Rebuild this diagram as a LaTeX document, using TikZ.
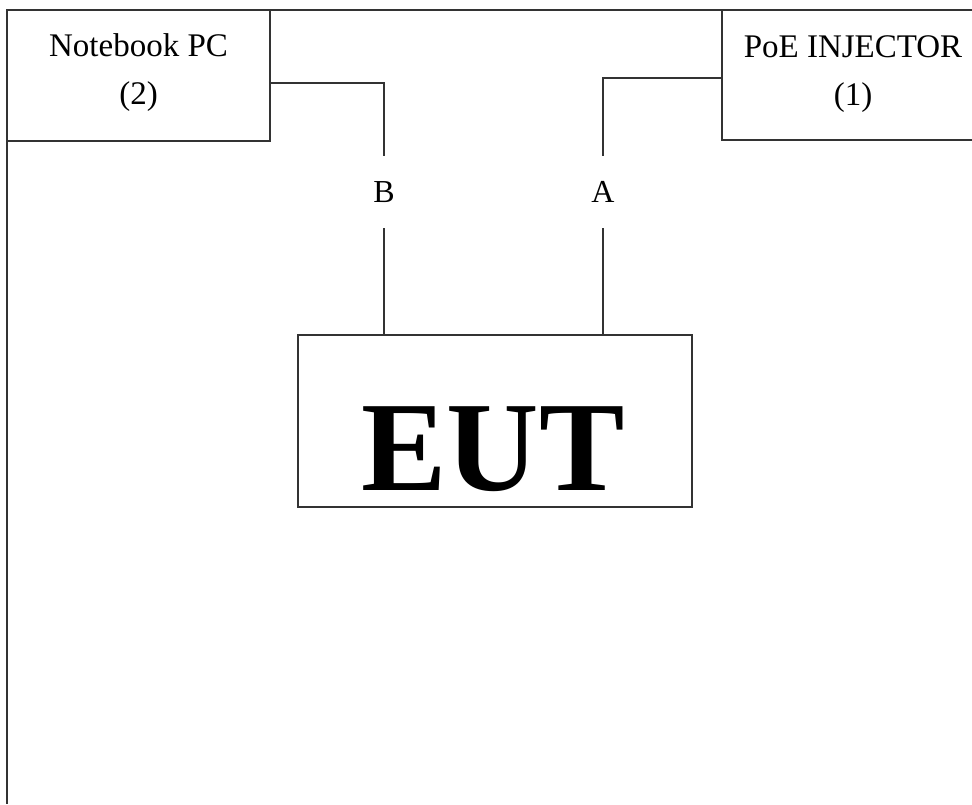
\documentclass[tikz,border=0pt]{standalone}
\usepackage{fontspec}
\setmainfont{Liberation Serif}
\tikzset{
  wire/.style={draw=black!80, line width=1.5pt},
  box/.style={draw=black!80, line width=1.5pt, rectangle, inner sep=0pt, outer sep=0pt},
  lbl/.style={font=\fontsize{33}{40}\selectfont, inner sep=0pt},
  portlbl/.style={font=\fontsize{32}{40}\selectfont, inner sep=0pt, minimum height=72pt}
}
\begin{document}
\begin{tikzpicture}[x=1pt,y=-1pt]
\path[use as bounding box] (0,0) rectangle (972,804);
\clip (0,0) rectangle (972,804);
\draw[wire] (972,10) -- (7,10) -- (7,804);
\node[box, minimum width=263pt, minimum height=131pt] (nb) at (138.5,75.5) {};
\node[box, minimum width=262pt, minimum height=130pt] (poe) at (853,75) {};
\node[lbl, anchor=base] (nbt1) at (138.5,56) {Notebook PC};
\node[lbl, anchor=base] (nbt2) at (138.5,104) {(2)};
\node[lbl, anchor=base] (poet1) at (853,57) {PoE INJECTOR};
\node[lbl, anchor=base] (poet2) at (853,105) {(1)};
\node[box, minimum width=394pt, minimum height=172pt] (eut) at (495,421) {};
\node[font=\fontsize{128}{150}\selectfont\bfseries, inner sep=0pt, anchor=base] (eutt) at (493,490) {EUT};
\node[portlbl] (B) at (384,192) {B};
\node[portlbl] (A) at (603,192) {A};
\draw[wire] ([yshift=-7.5pt]nb.east) -| (B.north);
\draw[wire] (B.south) -- (B.south |- eut.north);
\draw[wire] ([yshift=-3pt]poe.west) -| (A.north);
\draw[wire] (A.south) -- (A.south |- eut.north);
\end{tikzpicture}
\end{document}
